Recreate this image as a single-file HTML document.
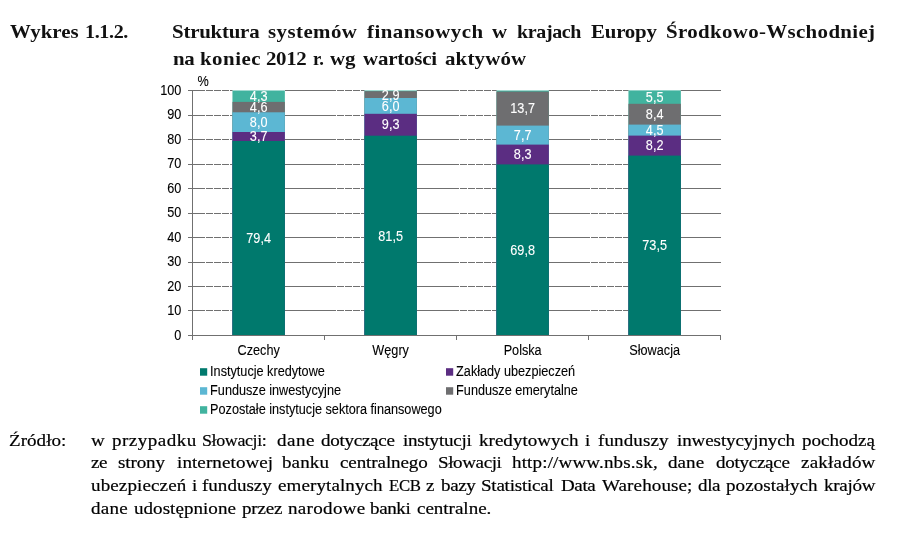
<!DOCTYPE html>
<html lang="pl">
<head>
<meta charset="utf-8">
<title>Wykres 1.1.2.</title>
<style>
html,body{margin:0;padding:0;background:#fff;}
body{width:898px;height:540px;position:relative;overflow:hidden;font-family:"Liberation Serif","DejaVu Serif",serif;color:#111;}
.chart{position:absolute;left:0;top:0;}
.t{position:absolute;white-space:nowrap;line-height:1;}
.h{font-weight:bold;font-size:19px;transform:scaleX(1.10);transform-origin:0 0;}
.s{font-size:17px;transform:scaleX(1.12);transform-origin:0 0;color:#000;-webkit-text-stroke:0.2px #000;}
</style>
</head>
<body>
<svg class="chart" width="898" height="540" viewBox="0 0 898 540" font-family="'Liberation Sans', Arial, sans-serif" font-size="14">
<line x1="192" y1="310.5" x2="205" y2="310.5" stroke="#707070" stroke-width="1"/>
<line x1="206" y1="310.5" x2="232.6" y2="310.5" stroke="#707070" stroke-width="1" stroke-dasharray="7 1"/>
<line x1="285.0" y1="310.5" x2="336" y2="310.5" stroke="#707070" stroke-width="1"/>
<line x1="337" y1="310.5" x2="364.6" y2="310.5" stroke="#707070" stroke-width="1" stroke-dasharray="7 1"/>
<line x1="416.6" y1="310.5" x2="459" y2="310.5" stroke="#707070" stroke-width="1"/>
<line x1="460" y1="310.5" x2="496.7" y2="310.5" stroke="#707070" stroke-width="1" stroke-dasharray="7 1"/>
<line x1="548.7" y1="310.5" x2="590" y2="310.5" stroke="#707070" stroke-width="1"/>
<line x1="591" y1="310.5" x2="628.6" y2="310.5" stroke="#707070" stroke-width="1" stroke-dasharray="7 1"/>
<line x1="680.7" y1="310.5" x2="721" y2="310.5" stroke="#707070" stroke-width="1"/>
<line x1="192" y1="286.5" x2="205" y2="286.5" stroke="#707070" stroke-width="1"/>
<line x1="206" y1="286.5" x2="232.6" y2="286.5" stroke="#707070" stroke-width="1" stroke-dasharray="7 1"/>
<line x1="285.0" y1="286.5" x2="336" y2="286.5" stroke="#707070" stroke-width="1"/>
<line x1="337" y1="286.5" x2="364.6" y2="286.5" stroke="#707070" stroke-width="1" stroke-dasharray="7 1"/>
<line x1="416.6" y1="286.5" x2="459" y2="286.5" stroke="#707070" stroke-width="1"/>
<line x1="460" y1="286.5" x2="496.7" y2="286.5" stroke="#707070" stroke-width="1" stroke-dasharray="7 1"/>
<line x1="548.7" y1="286.5" x2="590" y2="286.5" stroke="#707070" stroke-width="1"/>
<line x1="591" y1="286.5" x2="628.6" y2="286.5" stroke="#707070" stroke-width="1" stroke-dasharray="7 1"/>
<line x1="680.7" y1="286.5" x2="721" y2="286.5" stroke="#707070" stroke-width="1"/>
<line x1="192" y1="262.5" x2="205" y2="262.5" stroke="#707070" stroke-width="1"/>
<line x1="206" y1="262.5" x2="232.6" y2="262.5" stroke="#707070" stroke-width="1" stroke-dasharray="7 1"/>
<line x1="285.0" y1="262.5" x2="336" y2="262.5" stroke="#707070" stroke-width="1"/>
<line x1="337" y1="262.5" x2="364.6" y2="262.5" stroke="#707070" stroke-width="1" stroke-dasharray="7 1"/>
<line x1="416.6" y1="262.5" x2="459" y2="262.5" stroke="#707070" stroke-width="1"/>
<line x1="460" y1="262.5" x2="496.7" y2="262.5" stroke="#707070" stroke-width="1" stroke-dasharray="7 1"/>
<line x1="548.7" y1="262.5" x2="590" y2="262.5" stroke="#707070" stroke-width="1"/>
<line x1="591" y1="262.5" x2="628.6" y2="262.5" stroke="#707070" stroke-width="1" stroke-dasharray="7 1"/>
<line x1="680.7" y1="262.5" x2="721" y2="262.5" stroke="#707070" stroke-width="1"/>
<line x1="192" y1="237.5" x2="205" y2="237.5" stroke="#707070" stroke-width="1"/>
<line x1="206" y1="237.5" x2="232.6" y2="237.5" stroke="#707070" stroke-width="1" stroke-dasharray="7 1"/>
<line x1="285.0" y1="237.5" x2="336" y2="237.5" stroke="#707070" stroke-width="1"/>
<line x1="337" y1="237.5" x2="364.6" y2="237.5" stroke="#707070" stroke-width="1" stroke-dasharray="7 1"/>
<line x1="416.6" y1="237.5" x2="459" y2="237.5" stroke="#707070" stroke-width="1"/>
<line x1="460" y1="237.5" x2="496.7" y2="237.5" stroke="#707070" stroke-width="1" stroke-dasharray="7 1"/>
<line x1="548.7" y1="237.5" x2="590" y2="237.5" stroke="#707070" stroke-width="1"/>
<line x1="591" y1="237.5" x2="628.6" y2="237.5" stroke="#707070" stroke-width="1" stroke-dasharray="7 1"/>
<line x1="680.7" y1="237.5" x2="721" y2="237.5" stroke="#707070" stroke-width="1"/>
<line x1="192" y1="213.5" x2="205" y2="213.5" stroke="#707070" stroke-width="1"/>
<line x1="206" y1="213.5" x2="232.6" y2="213.5" stroke="#707070" stroke-width="1" stroke-dasharray="7 1"/>
<line x1="285.0" y1="213.5" x2="336" y2="213.5" stroke="#707070" stroke-width="1"/>
<line x1="337" y1="213.5" x2="364.6" y2="213.5" stroke="#707070" stroke-width="1" stroke-dasharray="7 1"/>
<line x1="416.6" y1="213.5" x2="459" y2="213.5" stroke="#707070" stroke-width="1"/>
<line x1="460" y1="213.5" x2="496.7" y2="213.5" stroke="#707070" stroke-width="1" stroke-dasharray="7 1"/>
<line x1="548.7" y1="213.5" x2="590" y2="213.5" stroke="#707070" stroke-width="1"/>
<line x1="591" y1="213.5" x2="628.6" y2="213.5" stroke="#707070" stroke-width="1" stroke-dasharray="7 1"/>
<line x1="680.7" y1="213.5" x2="721" y2="213.5" stroke="#707070" stroke-width="1"/>
<line x1="192" y1="188.5" x2="205" y2="188.5" stroke="#707070" stroke-width="1"/>
<line x1="206" y1="188.5" x2="232.6" y2="188.5" stroke="#707070" stroke-width="1" stroke-dasharray="7 1"/>
<line x1="285.0" y1="188.5" x2="336" y2="188.5" stroke="#707070" stroke-width="1"/>
<line x1="337" y1="188.5" x2="364.6" y2="188.5" stroke="#707070" stroke-width="1" stroke-dasharray="7 1"/>
<line x1="416.6" y1="188.5" x2="459" y2="188.5" stroke="#707070" stroke-width="1"/>
<line x1="460" y1="188.5" x2="496.7" y2="188.5" stroke="#707070" stroke-width="1" stroke-dasharray="7 1"/>
<line x1="548.7" y1="188.5" x2="590" y2="188.5" stroke="#707070" stroke-width="1"/>
<line x1="591" y1="188.5" x2="628.6" y2="188.5" stroke="#707070" stroke-width="1" stroke-dasharray="7 1"/>
<line x1="680.7" y1="188.5" x2="721" y2="188.5" stroke="#707070" stroke-width="1"/>
<line x1="192" y1="164.5" x2="205" y2="164.5" stroke="#707070" stroke-width="1"/>
<line x1="206" y1="164.5" x2="232.6" y2="164.5" stroke="#707070" stroke-width="1" stroke-dasharray="7 1"/>
<line x1="285.0" y1="164.5" x2="336" y2="164.5" stroke="#707070" stroke-width="1"/>
<line x1="337" y1="164.5" x2="364.6" y2="164.5" stroke="#707070" stroke-width="1" stroke-dasharray="7 1"/>
<line x1="416.6" y1="164.5" x2="459" y2="164.5" stroke="#707070" stroke-width="1"/>
<line x1="460" y1="164.5" x2="496.7" y2="164.5" stroke="#707070" stroke-width="1" stroke-dasharray="7 1"/>
<line x1="548.7" y1="164.5" x2="590" y2="164.5" stroke="#707070" stroke-width="1"/>
<line x1="591" y1="164.5" x2="628.6" y2="164.5" stroke="#707070" stroke-width="1" stroke-dasharray="7 1"/>
<line x1="680.7" y1="164.5" x2="721" y2="164.5" stroke="#707070" stroke-width="1"/>
<line x1="192" y1="139.5" x2="205" y2="139.5" stroke="#707070" stroke-width="1"/>
<line x1="206" y1="139.5" x2="232.6" y2="139.5" stroke="#707070" stroke-width="1" stroke-dasharray="7 1"/>
<line x1="285.0" y1="139.5" x2="336" y2="139.5" stroke="#707070" stroke-width="1"/>
<line x1="337" y1="139.5" x2="364.6" y2="139.5" stroke="#707070" stroke-width="1" stroke-dasharray="7 1"/>
<line x1="416.6" y1="139.5" x2="459" y2="139.5" stroke="#707070" stroke-width="1"/>
<line x1="460" y1="139.5" x2="496.7" y2="139.5" stroke="#707070" stroke-width="1" stroke-dasharray="7 1"/>
<line x1="548.7" y1="139.5" x2="590" y2="139.5" stroke="#707070" stroke-width="1"/>
<line x1="591" y1="139.5" x2="628.6" y2="139.5" stroke="#707070" stroke-width="1" stroke-dasharray="7 1"/>
<line x1="680.7" y1="139.5" x2="721" y2="139.5" stroke="#707070" stroke-width="1"/>
<line x1="192" y1="115.5" x2="205" y2="115.5" stroke="#707070" stroke-width="1"/>
<line x1="206" y1="115.5" x2="232.6" y2="115.5" stroke="#707070" stroke-width="1" stroke-dasharray="7 1"/>
<line x1="285.0" y1="115.5" x2="336" y2="115.5" stroke="#707070" stroke-width="1"/>
<line x1="337" y1="115.5" x2="364.6" y2="115.5" stroke="#707070" stroke-width="1" stroke-dasharray="7 1"/>
<line x1="416.6" y1="115.5" x2="459" y2="115.5" stroke="#707070" stroke-width="1"/>
<line x1="460" y1="115.5" x2="496.7" y2="115.5" stroke="#707070" stroke-width="1" stroke-dasharray="7 1"/>
<line x1="548.7" y1="115.5" x2="590" y2="115.5" stroke="#707070" stroke-width="1"/>
<line x1="591" y1="115.5" x2="628.6" y2="115.5" stroke="#707070" stroke-width="1" stroke-dasharray="7 1"/>
<line x1="680.7" y1="115.5" x2="721" y2="115.5" stroke="#707070" stroke-width="1"/>
<line x1="192" y1="90.5" x2="205" y2="90.5" stroke="#707070" stroke-width="1"/>
<line x1="206" y1="90.5" x2="232.6" y2="90.5" stroke="#707070" stroke-width="1" stroke-dasharray="7 1"/>
<line x1="285.0" y1="90.5" x2="336" y2="90.5" stroke="#707070" stroke-width="1"/>
<line x1="337" y1="90.5" x2="364.6" y2="90.5" stroke="#707070" stroke-width="1" stroke-dasharray="7 1"/>
<line x1="416.6" y1="90.5" x2="459" y2="90.5" stroke="#707070" stroke-width="1"/>
<line x1="460" y1="90.5" x2="496.7" y2="90.5" stroke="#707070" stroke-width="1" stroke-dasharray="7 1"/>
<line x1="548.7" y1="90.5" x2="590" y2="90.5" stroke="#707070" stroke-width="1"/>
<line x1="591" y1="90.5" x2="628.6" y2="90.5" stroke="#707070" stroke-width="1" stroke-dasharray="7 1"/>
<line x1="680.7" y1="90.5" x2="721" y2="90.5" stroke="#707070" stroke-width="1"/>
<line x1="188" y1="335.5" x2="193" y2="335.5" stroke="#707070" stroke-width="1"/>
<text transform="translate(181.40 340.00) scale(0.905 1)" text-anchor="end" fill="#000" stroke="#000" stroke-width="0.1">0</text>
<line x1="188" y1="310.5" x2="193" y2="310.5" stroke="#707070" stroke-width="1"/>
<text transform="translate(181.40 315.00) scale(0.905 1)" text-anchor="end" fill="#000" stroke="#000" stroke-width="0.1">10</text>
<line x1="188" y1="286.5" x2="193" y2="286.5" stroke="#707070" stroke-width="1"/>
<text transform="translate(181.40 291.00) scale(0.905 1)" text-anchor="end" fill="#000" stroke="#000" stroke-width="0.1">20</text>
<line x1="188" y1="262.5" x2="193" y2="262.5" stroke="#707070" stroke-width="1"/>
<text transform="translate(181.40 266.00) scale(0.905 1)" text-anchor="end" fill="#000" stroke="#000" stroke-width="0.1">30</text>
<line x1="188" y1="237.5" x2="193" y2="237.5" stroke="#707070" stroke-width="1"/>
<text transform="translate(181.40 242.00) scale(0.905 1)" text-anchor="end" fill="#000" stroke="#000" stroke-width="0.1">40</text>
<line x1="188" y1="213.5" x2="193" y2="213.5" stroke="#707070" stroke-width="1"/>
<text transform="translate(181.40 217.00) scale(0.905 1)" text-anchor="end" fill="#000" stroke="#000" stroke-width="0.1">50</text>
<line x1="188" y1="188.5" x2="193" y2="188.5" stroke="#707070" stroke-width="1"/>
<text transform="translate(181.40 193.00) scale(0.905 1)" text-anchor="end" fill="#000" stroke="#000" stroke-width="0.1">60</text>
<line x1="188" y1="164.5" x2="193" y2="164.5" stroke="#707070" stroke-width="1"/>
<text transform="translate(181.40 168.00) scale(0.905 1)" text-anchor="end" fill="#000" stroke="#000" stroke-width="0.1">70</text>
<line x1="188" y1="139.5" x2="193" y2="139.5" stroke="#707070" stroke-width="1"/>
<text transform="translate(181.40 144.00) scale(0.905 1)" text-anchor="end" fill="#000" stroke="#000" stroke-width="0.1">80</text>
<line x1="188" y1="115.5" x2="193" y2="115.5" stroke="#707070" stroke-width="1"/>
<text transform="translate(181.40 119.00) scale(0.905 1)" text-anchor="end" fill="#000" stroke="#000" stroke-width="0.1">90</text>
<line x1="188" y1="90.5" x2="193" y2="90.5" stroke="#707070" stroke-width="1"/>
<text transform="translate(181.40 95.00) scale(0.905 1)" text-anchor="end" fill="#000" stroke="#000" stroke-width="0.1">100</text>
<rect x="232.45" y="90.50" width="52.4" height="245.00" fill="#41b39f"/>
<rect x="232.45" y="101.90" width="52.4" height="233.60" fill="#6e6e70"/>
<rect x="232.45" y="112.30" width="52.4" height="223.20" fill="#5cb7d3"/>
<rect x="232.45" y="132.00" width="52.4" height="203.50" fill="#5b2d82"/>
<rect x="232.45" y="141.00" width="52.4" height="194.50" fill="#00796d"/>
<text transform="translate(258.65 243.00) scale(0.905 1)" text-anchor="middle" fill="#fff" stroke="#fff" stroke-width="0.1">79,4</text>
<text transform="translate(258.65 141.00) scale(0.905 1)" text-anchor="middle" fill="#fff" stroke="#fff" stroke-width="0.1">3,7</text>
<text transform="translate(258.65 127.00) scale(0.905 1)" text-anchor="middle" fill="#fff" stroke="#fff" stroke-width="0.1">8,0</text>
<text transform="translate(258.65 112.00) scale(0.905 1)" text-anchor="middle" fill="#fff" stroke="#fff" stroke-width="0.1">4,6</text>
<text transform="translate(258.65 101.00) scale(0.905 1)" text-anchor="middle" fill="#fff" stroke="#fff" stroke-width="0.1">4,3</text>
<text transform="translate(258.65 355.00) scale(0.905 1)" text-anchor="middle" fill="#000" stroke="#000" stroke-width="0.1">Czechy</text>
<rect x="364.45" y="90.50" width="52.4" height="245.00" fill="#41b39f"/>
<rect x="364.45" y="91.20" width="52.4" height="244.30" fill="#6e6e70"/>
<rect x="364.45" y="98.00" width="52.4" height="237.50" fill="#5cb7d3"/>
<rect x="364.45" y="113.80" width="52.4" height="221.70" fill="#5b2d82"/>
<rect x="364.45" y="135.70" width="52.4" height="199.80" fill="#00796d"/>
<text transform="translate(390.65 241.00) scale(0.905 1)" text-anchor="middle" fill="#fff" stroke="#fff" stroke-width="0.1">81,5</text>
<text transform="translate(390.65 129.00) scale(0.905 1)" text-anchor="middle" fill="#fff" stroke="#fff" stroke-width="0.1">9,3</text>
<text transform="translate(390.65 111.00) scale(0.905 1)" text-anchor="middle" fill="#fff" stroke="#fff" stroke-width="0.1">6,0</text>
<text transform="translate(390.65 100.00) scale(0.905 1)" text-anchor="middle" fill="#fff" stroke="#fff" stroke-width="0.1">2,9</text>
<text transform="translate(390.65 355.00) scale(0.905 1)" text-anchor="middle" fill="#000" stroke="#000" stroke-width="0.1">Węgry</text>
<rect x="496.45" y="90.50" width="52.4" height="245.00" fill="#41b39f"/>
<rect x="496.45" y="91.60" width="52.4" height="243.90" fill="#6e6e70"/>
<rect x="496.45" y="125.60" width="52.4" height="209.90" fill="#5cb7d3"/>
<rect x="496.45" y="144.60" width="52.4" height="190.90" fill="#5b2d82"/>
<rect x="496.45" y="164.40" width="52.4" height="171.10" fill="#00796d"/>
<text transform="translate(522.65 255.00) scale(0.905 1)" text-anchor="middle" fill="#fff" stroke="#fff" stroke-width="0.1">69,8</text>
<text transform="translate(522.65 159.00) scale(0.905 1)" text-anchor="middle" fill="#fff" stroke="#fff" stroke-width="0.1">8,3</text>
<text transform="translate(522.65 140.00) scale(0.905 1)" text-anchor="middle" fill="#fff" stroke="#fff" stroke-width="0.1">7,7</text>
<text transform="translate(522.65 113.00) scale(0.905 1)" text-anchor="middle" fill="#fff" stroke="#fff" stroke-width="0.1">13,7</text>
<text transform="translate(522.65 355.00) scale(0.905 1)" text-anchor="middle" fill="#000" stroke="#000" stroke-width="0.1">Polska</text>
<rect x="628.45" y="90.40" width="52.4" height="245.10" fill="#41b39f"/>
<rect x="628.45" y="103.80" width="52.4" height="231.70" fill="#6e6e70"/>
<rect x="628.45" y="124.60" width="52.4" height="210.90" fill="#5cb7d3"/>
<rect x="628.45" y="135.60" width="52.4" height="199.90" fill="#5b2d82"/>
<rect x="628.45" y="155.60" width="52.4" height="179.90" fill="#00796d"/>
<text transform="translate(654.65 250.00) scale(0.905 1)" text-anchor="middle" fill="#fff" stroke="#fff" stroke-width="0.1">73,5</text>
<text transform="translate(654.65 150.00) scale(0.905 1)" text-anchor="middle" fill="#fff" stroke="#fff" stroke-width="0.1">8,2</text>
<text transform="translate(654.65 135.00) scale(0.905 1)" text-anchor="middle" fill="#fff" stroke="#fff" stroke-width="0.1">4,5</text>
<text transform="translate(654.65 119.00) scale(0.905 1)" text-anchor="middle" fill="#fff" stroke="#fff" stroke-width="0.1">8,4</text>
<text transform="translate(654.65 102.00) scale(0.905 1)" text-anchor="middle" fill="#fff" stroke="#fff" stroke-width="0.1">5,5</text>
<text transform="translate(654.65 355.00) scale(0.905 1)" text-anchor="middle" fill="#000" stroke="#000" stroke-width="0.1">Słowacja</text>
<line x1="192.5" y1="90" x2="192.5" y2="340" stroke="#707070" stroke-width="1"/>
<line x1="188" y1="335.5" x2="721" y2="335.5" stroke="#707070" stroke-width="1"/>
<line x1="324.5" y1="335" x2="324.5" y2="340" stroke="#707070" stroke-width="1"/>
<line x1="456.5" y1="335" x2="456.5" y2="340" stroke="#707070" stroke-width="1"/>
<line x1="588.5" y1="335" x2="588.5" y2="340" stroke="#707070" stroke-width="1"/>
<line x1="720.5" y1="335" x2="720.5" y2="340" stroke="#707070" stroke-width="1"/>
<text transform="translate(197.40 86.00) scale(0.905 1)" fill="#000" stroke="#000" stroke-width="0.1">%</text>
<rect x="200.0" y="368.2" width="7.2" height="7.5" fill="#00796d"/>
<text transform="translate(210.10 376.00) scale(0.905 1)" fill="#000" stroke="#000" stroke-width="0.1">Instytucje kredytowe</text>
<rect x="446.0" y="368.2" width="7.2" height="7.5" fill="#5b2d82"/>
<text transform="translate(456.10 376.00) scale(0.905 1)" fill="#000" stroke="#000" stroke-width="0.1">Zakłady ubezpieczeń</text>
<rect x="200.0" y="387.2" width="7.2" height="7.5" fill="#5cb7d3"/>
<text transform="translate(210.10 395.00) scale(0.905 1)" fill="#000" stroke="#000" stroke-width="0.1">Fundusze inwestycyjne</text>
<rect x="446.0" y="387.2" width="7.2" height="7.5" fill="#6e6e70"/>
<text transform="translate(456.10 395.00) scale(0.905 1)" fill="#000" stroke="#000" stroke-width="0.1">Fundusze emerytalne</text>
<rect x="200.0" y="406.2" width="7.2" height="7.5" fill="#41b39f"/>
<text transform="translate(210.10 414.00) scale(0.905 1)" fill="#000" stroke="#000" stroke-width="0.1">Pozostałe instytucje sektora finansowego</text>
</svg>
<div id="h0"><span class="t h" style="left:10.2px;top:21.9px;letter-spacing:0.036px;">Wykres</span> <span class="t h" style="left:85.3px;top:21.9px;letter-spacing:-0.35px;transform:scaleX(1.0575);">1.1.2.</span></div>
<div id="h1"><span class="t h" style="left:171.5px;top:21.9px;letter-spacing:-0.205px;">Struktura</span> <span class="t h" style="left:267.9px;top:21.9px;letter-spacing:0.39px;">systemów</span> <span class="t h" style="left:367.0px;top:21.9px;letter-spacing:0.418px;">finansowych</span> <span class="t h" style="left:492.45px;top:21.9px;">w</span> <span class="t h" style="left:516.7px;top:21.9px;letter-spacing:-0.35px;transform:scaleX(1.0524);">krajach</span> <span class="t h" style="left:591.0px;top:21.9px;letter-spacing:-0.182px;">Europy</span> <span class="t h" style="left:666.0px;top:21.9px;letter-spacing:0.313px;">Środkowo-Wschodniej</span></div>
<div id="h2"><span class="t h" style="left:172.5px;top:48.7px;letter-spacing:-0.35px;">na</span> <span class="t h" style="left:199.7px;top:48.7px;letter-spacing:0.436px;">koniec</span> <span class="t h" style="left:265.5px;top:48.7px;letter-spacing:-0.35px;">2012</span> <span class="t h" style="left:312.5px;top:48.7px;letter-spacing:-0.35px;transform:scaleX(0.9808);">r.</span> <span class="t h" style="left:330.2px;top:48.7px;letter-spacing:-0.182px;">wg</span> <span class="t h" style="left:363.0px;top:48.7px;letter-spacing:-0.182px;">wartości</span> <span class="t h" style="left:444.5px;top:48.7px;letter-spacing:0.152px;">aktywów</span></div>
<div id="s0"><span class="t s" style="left:9.0px;top:431.6px;letter-spacing:0.03px;">Źródło:</span></div>
<div id="s1"><span class="t s" style="left:91.2px;top:431.6px;">w</span> <span class="t s" style="left:112.1px;top:431.6px;letter-spacing:0.446px;">przypadku</span> <span class="t s" style="left:202.1px;top:431.6px;letter-spacing:-0.35px;transform:scaleX(1.0548);">Słowacji:</span> <span class="t s" style="left:276.9px;top:431.6px;letter-spacing:0.476px;">dane</span> <span class="t s" style="left:321.0px;top:431.6px;letter-spacing:-0.246px;">dotyczące</span> <span class="t s" style="left:402.7px;top:431.6px;letter-spacing:-0.198px;">instytucji</span> <span class="t s" style="left:479.0px;top:431.6px;letter-spacing:0.018px;">kredytowych</span> <span class="t s" style="left:585.4px;top:431.6px;">i</span> <span class="t s" style="left:597.6px;top:431.6px;letter-spacing:0.102px;">funduszy</span> <span class="t s" style="left:676.9px;top:431.6px;letter-spacing:-0.096px;">inwestycyjnych</span> <span class="t s" style="left:801.6px;top:431.6px;">pochodzą</span></div>
<div id="s2"><span class="t s" style="left:90.7px;top:454.3px;letter-spacing:-0.35px;">ze</span> <span class="t s" style="left:118.1px;top:454.3px;letter-spacing:-0.107px;">strony</span> <span class="t s" style="left:176.6px;top:454.3px;letter-spacing:0.081px;">internetowej</span> <span class="t s" style="left:282.4px;top:454.3px;letter-spacing:0.089px;">banku</span> <span class="t s" style="left:339.7px;top:454.3px;letter-spacing:-0.089px;">centralnego</span> <span class="t s" style="left:437.9px;top:454.3px;letter-spacing:-0.35px;">Słowacji</span> <span class="t s" style="left:512.0px;top:454.3px;letter-spacing:0.137px;">http://www.nbs.sk,</span> <span class="t s" style="left:668.4px;top:454.3px;letter-spacing:0.06px;">dane</span> <span class="t s" style="left:715.6px;top:454.3px;letter-spacing:-0.246px;">dotyczące</span> <span class="t s" style="left:800.9px;top:454.3px;letter-spacing:0.179px;">zakładów</span></div>
<div id="s3"><span class="t s" style="left:90.7px;top:477.2px;letter-spacing:0.107px;">ubezpieczeń</span> <span class="t s" style="left:191.85px;top:477.2px;">i</span> <span class="t s" style="left:201.6px;top:477.2px;">funduszy</span> <span class="t s" style="left:278.0px;top:477.2px;letter-spacing:0.081px;">emerytalnych</span> <span class="t s" style="left:388.9px;top:477.2px;letter-spacing:-0.35px;transform:scaleX(0.9862);">ECB</span> <span class="t s" style="left:426.25px;top:477.2px;">z</span> <span class="t s" style="left:440.8px;top:477.2px;letter-spacing:-0.35px;">bazy</span> <span class="t s" style="left:481.3px;top:477.2px;letter-spacing:-0.214px;">Statistical</span> <span class="t s" style="left:561.0px;top:477.2px;letter-spacing:-0.35px;">Data</span> <span class="t s" style="left:601.8px;top:477.2px;letter-spacing:0.099px;">Warehouse;</span> <span class="t s" style="left:698.0px;top:477.2px;letter-spacing:-0.35px;">dla</span> <span class="t s" style="left:726.4px;top:477.2px;letter-spacing:0.054px;">pozostałych</span> <span class="t s" style="left:823.8px;top:477.2px;letter-spacing:-0.25px;">krajów</span></div>
<div id="s4"><span class="t s" style="left:90.7px;top:500.3px;letter-spacing:0.238px;">dane</span> <span class="t s" style="left:133.7px;top:500.3px;letter-spacing:0.032px;">udostępnione</span> <span class="t s" style="left:241.7px;top:500.3px;letter-spacing:-0.179px;">przez</span> <span class="t s" style="left:287.6px;top:500.3px;letter-spacing:0.281px;">narodowe</span> <span class="t s" style="left:370.4px;top:500.3px;letter-spacing:-0.35px;">banki</span> <span class="t s" style="left:416.8px;top:500.3px;letter-spacing:-0.02px;">centralne.</span></div>
</body>
</html>
